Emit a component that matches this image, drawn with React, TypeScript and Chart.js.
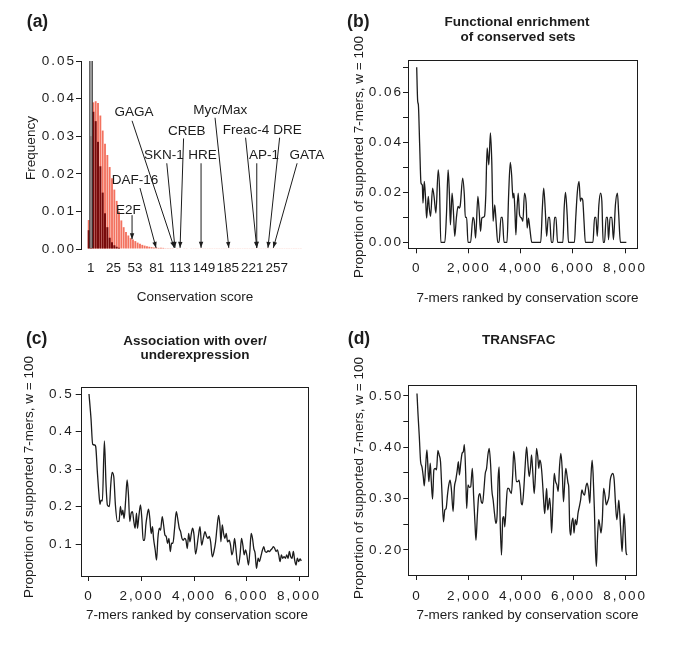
import React, { useEffect, useRef } from 'react';
import { Chart, registerables } from 'chart.js';

Chart.register(...registerables);

const FONT = "'Liberation Sans', Arial, Helvetica, sans-serif";
const INK = '#1c1c1c';

// ---------- Panel (a): histogram of conservation scores ----------
const redBins = [
  0, 1, 2, 3, 4, 5, 6, 7, 8, 9, 10, 11, 12, 13, 14, 15, 16, 17, 18, 19, 20, 21, 22, 23, 24, 25, 26, 27, 28, 29,
  30, 31, 32, 33, 34, 35, 36, 37, 38, 39, 40, 41, 42, 43, 44, 45, 46, 47, 48, 49, 50, 51, 52, 53, 54, 55, 56, 57, 58, 59,
  60, 61, 62, 63, 64, 65, 66, 67, 68, 69, 70, 71, 72, 73, 74, 75, 76, 77, 78, 79, 80, 81, 82, 83, 84, 85, 86, 87, 88, 89, 90, 91,
];
const redFreq = [
  0.0077, 0.03, 0.039, 0.0393, 0.0388, 0.0355, 0.0315, 0.028, 0.025, 0.0218, 0.0188, 0.0158, 0.0128, 0.01, 0.0076, 0.0058,
  0.0045, 0.0036, 0.0029, 0.0025, 0.0021, 0.0017, 0.0014, 0.0011, 0.0009, 0.0007, 0.0006, 0.0005, 0.0004, 0.0004,
  0.0003, 0.0003, 0.0003, 0.0002, 0.0002, 0.0002, 0.0002, 0.0001, 0.0002, 0.0001, 0.0001, 0.0001, 0.0001, 0.0001, 0.0001,
  0.0001, 0.0001, 0.0001, 0.0001, 0.0001, 0.0001, 0.0001, 0.0001, 0.0001, 0.0001, 0.0001, 0.0001, 0.0001, 0.0001, 0.0001,
  0.0001, 0.0001, 0.0001, 0.0001, 0.0001, 0.0001, 0.0001, 0.0001, 0.0001, 0.0001, 0.0001, 0.0001, 0.0001, 0.0001, 0.0001,
  0.0001, 0.0001, 0.0001, 0.0001, 0.0001, 0.0001, 0.0001, 0.0001, 0.0001, 0.0001, 0.0001, 0.0001, 0.0001, 0.0001, 0.0001,
  0.0001, 0.0001,
];
const darkBins = [0, 1, 2, 3, 4, 5, 6, 7, 8, 9, 10, 11, 12, 13];
const darkFreq = [0.005, 0.03, 0.0365, 0.034, 0.0285, 0.022, 0.015, 0.0095, 0.0058, 0.003, 0.0018, 0.001, 0.0006, 0.0003];
const grayBins = [1];
const grayFreq = [0.1];

const scoreLabels = ['1', '25', '53', '81', '113', '149', '185', '221', '257'];
const scoreLabelBins = [0.86, 10.6, 19.9, 29.2, 39.2, 49.5, 59.7, 70.2, 80.7];
const freqTicks = [0, 0.01, 0.02, 0.03, 0.04, 0.05];

const motifNames = ['GAGA', 'DAF-16', 'E2F', 'SKN-1', 'CREB', 'HRE', 'Myc/Max', 'Freac-4', 'AP-1', 'DRE', 'GATA'];
const motifTextBin = [19.4, 19.9, 17.0, 32.2, 42.1, 48.8, 56.4, 67.5, 75.2, 85.3, 93.6];
const motifTextFreq = [0.0364, 0.0184, 0.0102, 0.025, 0.0313, 0.025, 0.037, 0.0316, 0.025, 0.0316, 0.025];
const motifFromBin = [18.6, 22.0, 18.6, 33.5, 40.7, 48.2, 54.2, 67.3, 72.1, 81.9, 89.4];
const motifFromFreq = [0.0341, 0.0162, 0.009, 0.0228, 0.0294, 0.0228, 0.0349, 0.0296, 0.0228, 0.0296, 0.0228];
const motifToBin = [36.7, 28.9, 18.6, 37.0, 39.2, 48.2, 60.1, 72.1, 72.1, 76.9, 79.2];
const motifToFreq = [0.0003, 0.0003, 0.0026, 0.0003, 0.0003, 0.0003, 0.0003, 0.0003, 0.0003, 0.0003, 0.0003];

// ---------- Panel (b): functional enrichment ----------
const bRank = [
  0, 38, 64, 114, 165, 216, 241, 292, 343, 381, 445, 483, 533, 610, 673, 737, 826, 876, 927, 1080, 1143, 1207, 1257, 1295,
  1359, 1410, 1461, 1524, 1588, 1638, 1676, 1765, 1829, 1867, 1918, 1969, 2070, 2159, 2210, 2261, 2350, 2400, 2451, 2502,
  2604, 2654, 2705, 2769, 2832, 2883, 2934, 2997, 3048, 3112, 3162, 3239, 3289, 3353, 3467, 3531, 3594, 3645, 3696, 3734,
  3772, 3810, 3848, 3899, 3950, 4026, 4077, 4140, 4204, 4242, 4293, 4343, 4420, 4763, 4826, 4877, 4940, 4991, 5055, 5105,
  5169, 5232, 5296, 5347, 5410, 5613, 5664, 5715, 5779, 5829, 6058, 6108, 6172, 6235, 6286, 6324, 6375, 6426, 6477, 6769,
  6832, 6883, 6934, 6997, 7061, 7111, 7162, 7213, 7277, 7328, 7366, 7429, 7493, 7556, 7632, 7709, 7759, 7823, 8051,
];
const bProp = [
  0.07, 0.0564, 0.055, 0.039, 0.0237, 0.0228, 0.0157, 0.0244, 0.017, 0.0097, 0.0184, 0.0137, 0.0104, 0.0217, 0.0177, 0.0117,
  0.029, 0.0217, 0, 0, 0.011, 0.029, 0.019, 0.007, 0.0197, 0.0124, 0.0024, 0.0097, 0.0144, 0.0137, 0.015, 0.0257, 0.019,
  0.01, 0.01, 0, 0, 0.01, 0.0084, 0.0017, 0.0184, 0.0124, 0.0044, 0.0097, 0.0104, 0.019, 0.0377, 0.031, 0.0437, 0.0324,
  0.0084, 0.015, 0.0084, 0, 0, 0.01, 0.01, 0, 0, 0.019, 0.032, 0.027, 0.0177, 0.0197, 0.0124, 0.003, 0.0124, 0.0197, 0.011,
  0.0097, 0.0084, 0.0197, 0.0157, 0.0057, 0.0097, 0.0057, 0, 0, 0.0137, 0.0217, 0.0124, 0.0024, 0.01, 0.01, 0, 0, 0.01,
  0.01, 0, 0, 0.0137, 0.02, 0.011, 0, 0, 0.0097, 0.0204, 0.0244, 0.0164, 0.0177, 0.017, 0.0084, 0, 0, 0.01, 0.01, 0.0024,
  0.015, 0.0197, 0.0164, 0, 0, 0.01, 0.01, 0.0011, 0.01, 0.01, 0.0011, 0.015, 0.0197, 0.011, 0, 0,
];
const bTicksY = [0, 0.01, 0.02, 0.03, 0.04, 0.05, 0.06, 0.07];

// ---------- Panel (c): over/underexpression ----------
const cRank = [
  0, 76, 140, 217, 255, 318, 382, 420, 459, 510, 586, 650, 701, 777, 828, 879, 943, 1006, 1083, 1146, 1197, 1248, 1287,
  1338, 1401, 1452, 1503, 1554, 1605, 1656, 1707, 1758, 1809, 1847, 1898, 1962, 2013, 2064, 2115, 2166, 2217, 2268, 2318,
  2369, 2420, 2459, 2522, 2573, 2624, 2675, 2726, 2790, 2841, 2892, 2943, 2994, 3045, 3096, 3146, 3197, 3261, 3325, 3388,
  3439, 3490, 3541, 3592, 3643, 3694, 3745, 3796, 3847, 3898, 3949, 4000, 4060, 4164, 4228, 4291, 4354, 4418, 4481, 4532,
  4582, 4633, 4696, 4760, 4823, 4874, 4937, 4987, 5025, 5076, 5127, 5177, 5228, 5278, 5342, 5392, 5443, 5494, 5544, 5595,
  5646, 5696, 5759, 5810, 5861, 5911, 5962, 6013, 6076, 6127, 6177, 6228, 6278, 6329, 6380, 6443, 6494, 6544, 6608, 6658,
  6709, 6760, 6823, 6874, 6924, 6975, 7026, 7076, 7127, 7177, 7228, 7279, 7329, 7380, 7430, 7481, 7532, 7582, 7633, 7684,
  7734, 7785, 7835, 7886, 7937, 7987, 8038, 8089,
];
const cProp = [
  0.5, 0.435, 0.366, 0.364, 0.36, 0.293, 0.231, 0.206, 0.217, 0.215, 0.375, 0.257, 0.204, 0.2, 0.257, 0.291, 0.28, 0.204,
  0.16, 0.161, 0.2, 0.177, 0.19, 0.168, 0.222, 0.271, 0.231, 0.16, 0.182, 0.186, 0.16, 0.142, 0.182, 0.142, 0.173, 0.204,
  0.168, 0.11, 0.11, 0.151, 0.177, 0.193, 0.168, 0.128, 0.146, 0.115, 0.084, 0.057, 0.115, 0.142, 0.137, 0.173, 0.151,
  0.124, 0.12, 0.102, 0.115, 0.08, 0.102, 0.102, 0.142, 0.186, 0.164, 0.142, 0.133, 0.115, 0.11, 0.115, 0.11, 0.088, 0.128,
  0.106, 0.128, 0.142, 0.124, 0.073, 0.12, 0.146, 0.097, 0.115, 0.133, 0.12, 0.115, 0.12, 0.106, 0.066, 0.08, 0.106, 0.142,
  0.176, 0.151, 0.106, 0.151, 0.128, 0.115, 0.128, 0.106, 0.11, 0.097, 0.071, 0.084, 0.115, 0.088, 0.053, 0.044, 0.075,
  0.115, 0.097, 0.071, 0.084, 0.071, 0.044, 0.08, 0.128, 0.115, 0.088, 0.075, 0.035, 0.062, 0.053, 0.066, 0.084, 0.093,
  0.08, 0.078, 0.082, 0.08, 0.084, 0.088, 0.093, 0.088, 0.08, 0.084, 0.071, 0.053, 0.071, 0.062, 0.066, 0.062, 0.071, 0.062,
  0.08, 0.066, 0.062, 0.08, 0.057, 0.044, 0.062, 0.053, 0.06, 0.055,
];
const cTicksY = [0.1, 0.2, 0.3, 0.4, 0.5];

// ---------- Panel (d): TRANSFAC ----------
const dRank = [
  0, 38, 89, 140, 191, 242, 280, 331, 382, 433, 459, 510, 548, 599, 650, 701, 752, 803, 854, 905, 956, 1019, 1070, 1121,
  1172, 1223, 1274, 1325, 1389, 1440, 1491, 1542, 1593, 1631, 1682, 1733, 1784, 1822, 1873, 1911, 1962, 2013, 2064, 2128,
  2179, 2230, 2268, 2319, 2370, 2421, 2472, 2523, 2574, 2625, 2676, 2727, 2777, 2828, 2879, 2930, 2981, 3032, 3083, 3121,
  3160, 3198, 3249, 3300, 3338, 3376, 3427, 3478, 3529, 3580, 3631, 3682, 3720, 3771, 3822, 3873, 3924, 3975, 4012, 4050,
  4101, 4151, 4215, 4265, 4316, 4367, 4405, 4456, 4506, 4557, 4595, 4645, 4683, 4721, 4772, 4823, 4873, 4911, 4949, 4987,
  5025, 5063, 5101, 5139, 5177, 5228, 5278, 5329, 5380, 5430, 5481, 5532, 5582, 5633, 5671, 5721, 5759, 5810, 5835, 5873,
  5911, 5949, 6000, 6038, 6089, 6139, 6190, 6241, 6291, 6342, 6392, 6443, 6494, 6544, 6595, 6646, 6684, 6734, 6772, 6823,
  6861, 6899, 6937, 6987, 7038, 7076, 7127, 7177, 7228, 7279, 7329, 7380, 7431, 7481, 7532, 7583, 7633, 7684, 7722, 7760,
  7798, 7848, 7886, 7924, 7962, 8000, 8038, 8076,
];
const dProp = [
  0.505, 0.466, 0.421, 0.372, 0.362, 0.343, 0.325, 0.362, 0.395, 0.349, 0.333, 0.369, 0.336, 0.299, 0.356, 0.359, 0.356,
  0.394, 0.385, 0.372, 0.317, 0.255, 0.278, 0.281, 0.307, 0.327, 0.336, 0.317, 0.275, 0.323, 0.336, 0.353, 0.372, 0.346,
  0.369, 0.388, 0.392, 0.405, 0.349, 0.281, 0.327, 0.322, 0.323, 0.359, 0.304, 0.252, 0.219, 0.265, 0.304, 0.31, 0.294,
  0.291, 0.317, 0.349, 0.359, 0.385, 0.398, 0.369, 0.317, 0.297, 0.271, 0.252, 0.271, 0.34, 0.362, 0.258, 0.19, 0.262,
  0.265, 0.245, 0.284, 0.32, 0.32, 0.314, 0.31, 0.349, 0.392, 0.369, 0.333, 0.333, 0.336, 0.317, 0.291, 0.288, 0.314,
  0.356, 0.401, 0.369, 0.343, 0.362, 0.385, 0.349, 0.31, 0.349, 0.398, 0.382, 0.359, 0.375, 0.366, 0.336, 0.294, 0.271,
  0.297, 0.32, 0.278, 0.288, 0.301, 0.278, 0.233, 0.291, 0.349, 0.333, 0.327, 0.314, 0.362, 0.388, 0.359, 0.294, 0.323,
  0.359, 0.349, 0.33, 0.323, 0.245, 0.229, 0.252, 0.262, 0.233, 0.259, 0.249, 0.271, 0.284, 0.297, 0.317, 0.31, 0.307,
  0.323, 0.33, 0.317, 0.291, 0.336, 0.375, 0.349, 0.278, 0.203, 0.168, 0.219, 0.259, 0.245, 0.233, 0.259, 0.32, 0.307,
  0.288, 0.294, 0.304, 0.336, 0.346, 0.349, 0.336, 0.291, 0.259, 0.275, 0.297, 0.271, 0.226, 0.197, 0.233, 0.271, 0.245,
  0.197, 0.19,
];
const dTicksY = [0.2, 0.25, 0.3, 0.35, 0.4, 0.45, 0.5];

const rankTicks = [0, 2000, 4000, 6000, 8000];

// ---------- helpers ----------
const tickFont = { family: FONT, size: 13.5, lineHeight: 1.2 };

const trackPlugin = {
  id: 'track',
  beforeDraw(chart: any) {
    chart.ctx.letterSpacing = '2px';
  },
  beforeDatasetsDraw(chart: any) {
    chart.ctx.letterSpacing = '0px';
  },
};

const boxPlugin = {
  id: 'box',
  afterDraw(chart: any) {
    const { ctx, chartArea } = chart;
    const l = Math.round(chartArea.left) + 0.5;
    const t = Math.round(chartArea.top) + 0.5;
    const r = Math.round(chartArea.right) + 0.5;
    const b = Math.round(chartArea.bottom) + 0.5;
    ctx.save();
    ctx.strokeStyle = INK;
    ctx.lineWidth = 1;
    ctx.strokeRect(l, t, r - l, b - t);
    ctx.restore();
  },
};

function drawArrow(ctx: CanvasRenderingContext2D, x1: number, y1: number, x2: number, y2: number) {
  ctx.beginPath();
  ctx.moveTo(x1, y1);
  ctx.lineTo(x2, y2);
  ctx.stroke();
  const a = Math.atan2(y2 - y1, x2 - x1);
  const L = 6;
  const W = 2.2;
  const bx = x2 - L * Math.cos(a);
  const by = y2 - L * Math.sin(a);
  ctx.beginPath();
  ctx.moveTo(x2, y2);
  ctx.lineTo(bx + W * Math.sin(a), by - W * Math.cos(a));
  ctx.lineTo(bx - W * Math.sin(a), by + W * Math.cos(a));
  ctx.closePath();
  ctx.fill();
}

const annotatePlugin = {
  id: 'annotate',
  afterDatasetsDraw(chart: any) {
    const { ctx, scales } = chart;
    const xs = scales.x;
    const ys = scales.y;
    ctx.save();
    ctx.letterSpacing = '0px';
    ctx.fillStyle = INK;
    ctx.strokeStyle = INK;
    ctx.lineWidth = 1;
    ctx.font = `13.5px ${FONT}`;
    ctx.textAlign = 'center';
    ctx.textBaseline = 'middle';
    const yBase = ys.getPixelForValue(0);
    scoreLabels.forEach((lab, i) => {
      ctx.fillText(lab, xs.getPixelForValue(scoreLabelBins[i]), yBase + 19.3);
    });
    motifNames.forEach((name, i) => {
      ctx.fillText(name, xs.getPixelForValue(motifTextBin[i]), ys.getPixelForValue(motifTextFreq[i]));
      drawArrow(
        ctx,
        xs.getPixelForValue(motifFromBin[i]),
        ys.getPixelForValue(motifFromFreq[i]),
        xs.getPixelForValue(motifToBin[i]),
        ys.getPixelForValue(motifToFreq[i])
      );
    });
    ctx.restore();
  },
};

function makeA(): any {
  const pts = (bins: number[], vals: number[]) => bins.map((b, i) => ({ x: b, y: vals[i] }));
  return {
    type: 'bar',
    data: {
      datasets: [
        {
          label: 'top',
          data: pts(grayBins, grayFreq),
          backgroundColor: '#8e8e8e',
          borderColor: '#2a2a2a',
          borderWidth: 1,
          barPercentage: 1.6,
          categoryPercentage: 1,
          grouped: false,
        },
        {
          label: 'dark',
          data: pts(darkBins, darkFreq),
          backgroundColor: '#780b0b',
          barPercentage: 0.85,
          categoryPercentage: 1,
          grouped: false,
        },
        {
          label: 'red',
          data: pts(redBins, redFreq),
          backgroundColor: '#f3725f',
          barPercentage: 0.8,
          categoryPercentage: 1,
          grouped: false,
        },
      ],
    },
    options: {
      animation: false,
      responsive: false,
      events: [],
      layout: { padding: { left: 0, top: 61, right: 38, bottom: 71 } },
      plugins: { legend: { display: false }, tooltip: { enabled: false } },
      scales: {
        x: { type: 'linear', min: -3.3, max: 91.5, offset: false, display: false },
        y: {
          min: 0,
          max: 0.05,
          afterFit: (s: any) => {
            s.width = 81;
          },
          afterBuildTicks: (s: any) => {
            s.ticks = freqTicks.map((v) => ({ value: v }));
          },
          ticks: {
            autoSkip: false,
            padding: 0,
            color: INK,
            font: tickFont,
            callback: (v: number) => Number(v).toFixed(2),
          },
          grid: { drawOnChartArea: false, drawTicks: true, tickLength: 5, color: INK, lineWidth: 1 },
          border: { display: true, color: INK, width: 1 },
        },
      },
    },
    plugins: [trackPlugin, annotatePlugin],
  };
}

function makeLine(
  xs: number[],
  ys: number[],
  p: {
    xmin: number;
    xmax: number;
    ymin: number;
    ymax: number;
    yTicks: number[];
    yLabel: (v: number) => string;
    yWidth: number;
    xHeight: number;
    top: number;
    right: number;
    xPad: number;
    yPad: number;
  }
): any {
  return {
    type: 'line',
    data: {
      datasets: [
        {
          data: xs.map((x, i) => ({ x, y: ys[i] })),
          borderColor: INK,
          borderWidth: 1.3,
          pointRadius: 0,
          fill: false,
          cubicInterpolationMode: 'monotone',
        },
      ],
    },
    options: {
      animation: false,
      responsive: false,
      events: [],
      layout: { padding: { left: 0, top: p.top, right: p.right, bottom: 0 } },
      plugins: { legend: { display: false }, tooltip: { enabled: false } },
      scales: {
        x: {
          type: 'linear',
          min: p.xmin,
          max: p.xmax,
          offset: false,
          afterFit: (s: any) => {
            s.height = p.xHeight;
          },
          afterBuildTicks: (s: any) => {
            s.ticks = rankTicks.map((v) => ({ value: v }));
          },
          ticks: {
            autoSkip: false,
            maxRotation: 0,
            padding: p.xPad,
            color: INK,
            font: tickFont,
            callback: (v: number) => (v === 0 ? '0' : Number(v).toLocaleString('en-US')),
          },
          grid: { drawOnChartArea: false, drawTicks: true, tickLength: 5, color: INK, lineWidth: 1 },
          border: { display: false },
        },
        y: {
          min: p.ymin,
          max: p.ymax,
          afterFit: (s: any) => {
            s.width = p.yWidth;
          },
          afterBuildTicks: (s: any) => {
            s.ticks = p.yTicks.map((v) => ({ value: v }));
          },
          ticks: {
            autoSkip: false,
            padding: p.yPad,
            color: INK,
            font: tickFont,
            callback: (v: number) => p.yLabel(Number(v)),
          },
          grid: { drawOnChartArea: false, drawTicks: true, tickLength: 5, color: INK, lineWidth: 1 },
          border: { display: false },
        },
      },
    },
    plugins: [trackPlugin, boxPlugin],
  };
}

const isStep = (v: number, step: number) => Math.abs(v / step - Math.round(v / step)) < 1e-6;

function makeB() {
  return makeLine(bRank, bProp, {
    xmin: -334,
    xmax: 8449,
    ymin: -0.0024,
    ymax: 0.0729,
    yTicks: bTicksY,
    yLabel: (v) => (isStep(v, 0.02) ? v.toFixed(2) : ''),
    yWidth: 68,
    xHeight: 71.7,
    top: 60,
    right: 48.3,
    xPad: 6.9,
    yPad: 0,
  });
}

function makeC() {
  return makeLine(cRank, cProp, {
    xmin: -316,
    xmax: 8354,
    ymin: 0.0147,
    ymax: 0.5195,
    yTicks: cTicksY,
    yLabel: (v) => v.toFixed(1),
    yWidth: 80.7,
    xHeight: 70,
    top: 66.7,
    right: 31.7,
    xPad: 6.7,
    yPad: 2,
  });
}

function makeD() {
  return makeLine(dRank, dProp, {
    xmin: -334,
    xmax: 8422,
    ymin: 0.1513,
    ymax: 0.5214,
    yTicks: dTicksY,
    yLabel: (v) => (isStep(v, 0.1) ? v.toFixed(2) : ''),
    yWidth: 68.3,
    xHeight: 71,
    top: 65,
    right: 49,
    xPad: 7.7,
    yPad: 0,
  });
}

function Panel({ left, top, w, h, make }: { left: number; top: number; w: number; h: number; make: () => any }) {
  const ref = useRef<HTMLCanvasElement | null>(null);
  useEffect(() => {
    if (!ref.current) return;
    const chart = new Chart(ref.current, make());
    return () => chart.destroy();
  }, []);
  return (
    <canvas
      ref={ref}
      width={w}
      height={h}
      style={{ position: 'absolute', left, top, width: w, height: h, display: 'block' }}
    />
  );
}

function T({
  x,
  y,
  size = 13.5,
  bold = false,
  rotate = false,
  children,
}: {
  x: number;
  y: number;
  size?: number;
  bold?: boolean;
  rotate?: boolean;
  children: React.ReactNode;
}) {
  return (
    <div
      style={{
        position: 'absolute',
        left: x,
        top: y,
        transform: `translate(-50%, -50%)${rotate ? ' rotate(-90deg)' : ''}`,
        fontFamily: FONT,
        fontSize: size,
        fontWeight: bold ? 700 : 400,
        lineHeight: 1,
        whiteSpace: 'nowrap',
        color: INK,
      }}
    >
      {children}
    </div>
  );
}

export default function App() {
  const yTitle = 'Proportion of supported 7-mers, w = 100';
  const xTitle = '7-mers ranked by conservation score';
  return (
    <div style={{ position: 'absolute', left: 0, top: 0, width: 685, height: 646, background: '#fff', overflow: 'hidden' }}>
      <Panel left={0} top={0} w={340} h={320} make={makeA} />
      <Panel left={340} top={0} w={345} h={320} make={makeB} />
      <Panel left={0} top={320} w={340} h={326} make={makeC} />
      <Panel left={340} top={320} w={345} h={326} make={makeD} />

      <T x={37.5} y={21.7} size={17.5} bold>(a)</T>
      <T x={358.3} y={21.5} size={17.5} bold>(b)</T>
      <T x={36.7} y={339} size={17.5} bold>(c)</T>
      <T x={359} y={339} size={17.5} bold>(d)</T>

      <T x={517} y={21.9} bold>Functional enrichment</T>
      <T x={518} y={36.9} bold>of conserved sets</T>
      <T x={195} y={340.7} bold>Association with over/</T>
      <T x={195} y={355} bold>underexpression</T>
      <T x={518.8} y={340} bold>TRANSFAC</T>

      <T x={30.7} y={148.3} rotate>Frequency</T>
      <T x={195} y={297}>Conservation score</T>
      <T x={359.1} y={156.7} rotate>{yTitle}</T>
      <T x={527.5} y={297.5}>{xTitle}</T>
      <T x={29.1} y={476.7} rotate>{yTitle}</T>
      <T x={197} y={615}>{xTitle}</T>
      <T x={359.1} y={478} rotate>{yTitle}</T>
      <T x={527.5} y={615}>{xTitle}</T>
    </div>
  );
}
